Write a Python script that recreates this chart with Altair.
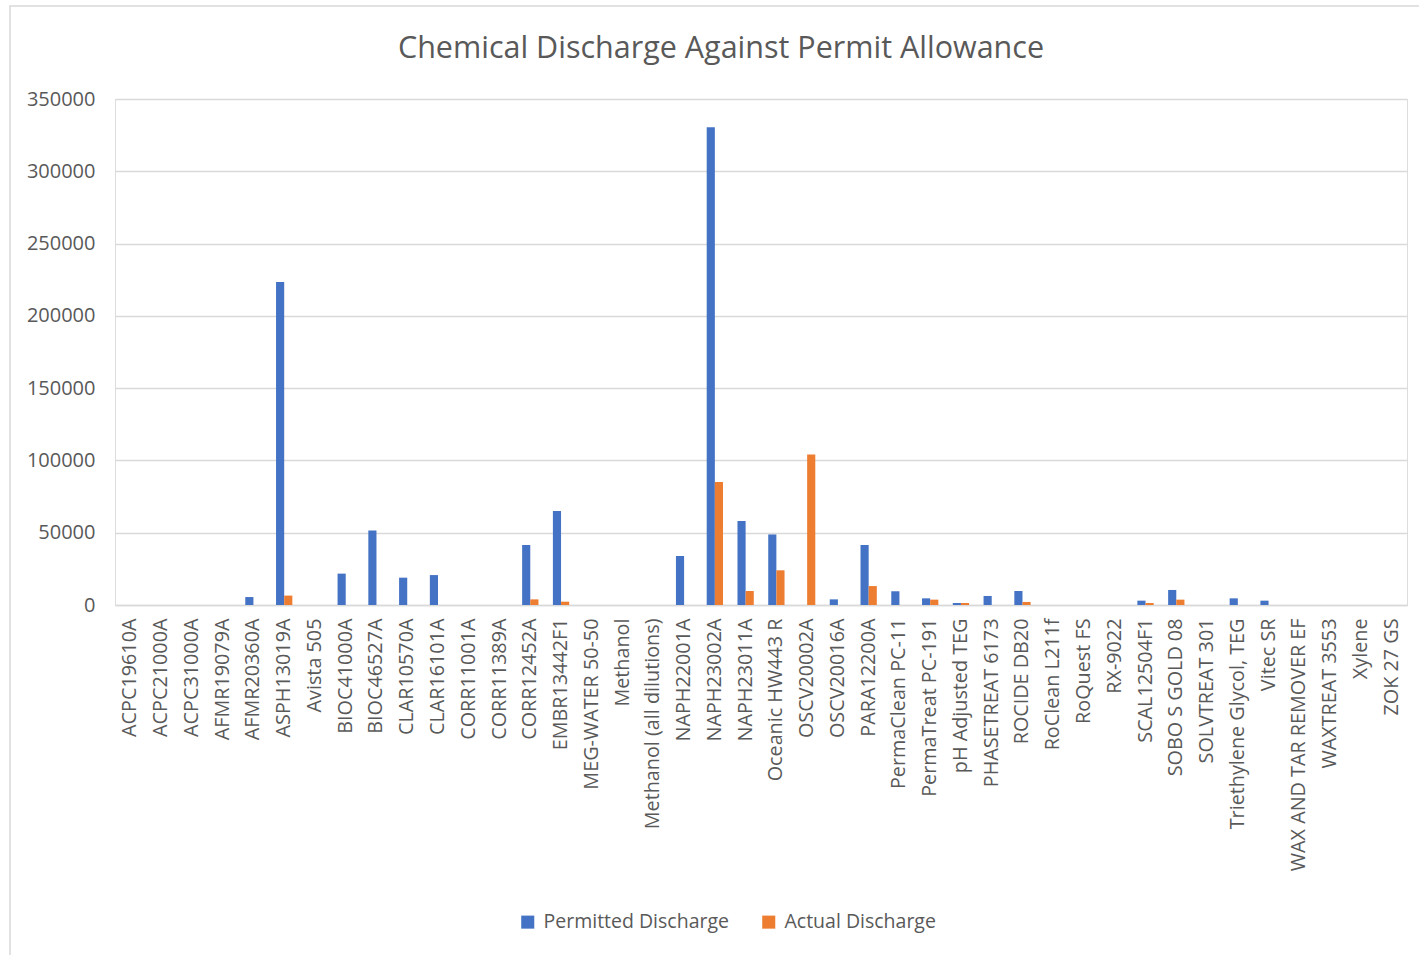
import altair as alt
import pandas as pd

categories = [
    "ACPC19610A", "ACPC21000A", "ACPC31000A", "AFMR19079A", "AFMR20360A",
    "ASPH13019A", "Avista 505", "BIOC41000A", "BIOC46527A", "CLAR10570A",
    "CLAR16101A", "CORR11001A", "CORR11389A", "CORR12452A", "EMBR13442F1",
    "MEG-WATER 50-50", "Methanol", "Methanol (all dilutions)", "NAPH22001A",
    "NAPH23002A", "NAPH23011A", "Oceanic HW443 R", "OSCV20002A", "OSCV20016A",
    "PARA12200A", "PermaClean PC-11", "PermaTreat PC-191", "pH Adjusted TEG",
    "PHASETREAT 6173", "ROCIDE DB20", "RoClean L211f", "RoQuest FS", "RX-9022",
    "SCAL12504F1", "SOBO S GOLD 08", "SOLVTREAT 301", "Triethylene Glycol, TEG",
    "Vitec SR", "WAX AND TAR REMOVER EF", "WAXTREAT 3553", "Xylene", "ZOK 27 GS",
]

permitted = [
    0, 0, 0, 0, 5500,
    223500, 0, 21700, 51600, 18900,
    20700, 0, 0, 41500, 65000,
    0, 0, 0, 33900,
    330400, 58100, 48800, 0, 3900,
    41500, 9500, 4600, 1400,
    6250, 9700, 0, 0, 0,
    3000, 10400, 0, 4600,
    3000, 0, 0, 0, 0,
]

actual = [
    0, 0, 0, 0, 0,
    6500, 0, 0, 0, 0,
    0, 0, 0, 3900, 2300,
    0, 0, 0, 0,
    85000, 9700, 24000, 104100, 0,
    13100, 0, 3700, 1400,
    0, 2100, 0, 0, 0,
    1400, 3700, 0, 0,
    0, 0, 0, 0, 0,
]

series_names = ["Permitted Discharge", "Actual Discharge"]
series_colors = ["#4472C4", "#ED7D31"]
y_ticks = [0, 50000, 100000, 150000, 200000, 250000, 300000, 350000]
chart_title = "Chemical Discharge Against Permit Allowance"

rows = []
for c, p, a in zip(categories, permitted, actual):
    rows.append({"Chemical": c, "Series": series_names[0], "Value": p})
    rows.append({"Chemical": c, "Series": series_names[1], "Value": a})
df = pd.DataFrame(rows)

FONT = "Open Sans"
GREY = "#595959"
GRID = "#d9d9d9"

bars = alt.Chart(df).mark_bar().encode(
    x=alt.X(
        "Chemical:N",
        sort=categories,
        scale=alt.Scale(paddingInner=0.47, paddingOuter=0.235),
        axis=alt.Axis(
            title=None,
            labelAngle=270,
            labelAlign="right",
            labelBaseline="middle",
            labelPadding=13,
            labelFontSize=19.8,
            labelFont=FONT,
            labelColor=GREY,
            labelOverlap=False,
            labelLimit=400,
            ticks=False,
            domainColor=GRID,
            domainWidth=1.5,
            grid=False,
        ),
    ),
    xOffset=alt.XOffset(
        "Series:N", sort=series_names,
        scale=alt.Scale(paddingInner=0, paddingOuter=0),
    ),
    y=alt.Y(
        "Value:Q",
        scale=alt.Scale(domain=[0, 350000], nice=False),
        axis=alt.Axis(
            title=None,
            values=y_ticks,
            format="d",
            labelFontSize=20,
            labelFont=FONT,
            labelColor=GREY,
            labelPadding=20,
            ticks=False,
            domain=False,
            gridColor=GRID,
            gridWidth=1.5,
        ),
    ),
    color=alt.Color(
        "Series:N",
        sort=series_names,
        scale=alt.Scale(domain=series_names, range=series_colors),
        legend=alt.Legend(
            title=None,
            orient="none",
            direction="horizontal",
            legendX=403,
            legendY=813,
            symbolType="square",
            symbolSize=170,
            symbolStrokeWidth=0,
            labelFontSize=19.5,
            labelFont=FONT,
            labelColor=GREY,
            labelLimit=400,
            columnPadding=30,
            labelOffset=6,
        ),
    ),
)

border = alt.Chart(pd.DataFrame({"b": [0]})).mark_rect(
    filled=False, stroke=GRID, strokeWidth=1.5
).encode(
    x=alt.value(-105), x2=alt.value(1320),
    y=alt.value(-93), y2=alt.value(870),
)

title_mark = alt.Chart(pd.DataFrame({"t": [chart_title]})).mark_text(
    font=FONT, fontSize=30.5, color=GREY, align="center", baseline="middle"
).encode(
    text="t:N",
    x=alt.value(606),
    y=alt.value(-50),
)

chart = alt.layer(border, bars, title_mark).properties(
    width=1292,
    height=506,
    autosize=alt.AutoSizeParams(type="none"),
    padding={"left": 115, "top": 99, "right": 12, "bottom": 350},
).configure_view(stroke=None).configure(background="white")

chart.save("out.html", embed_options={"renderer": "svg", "actions": False})
